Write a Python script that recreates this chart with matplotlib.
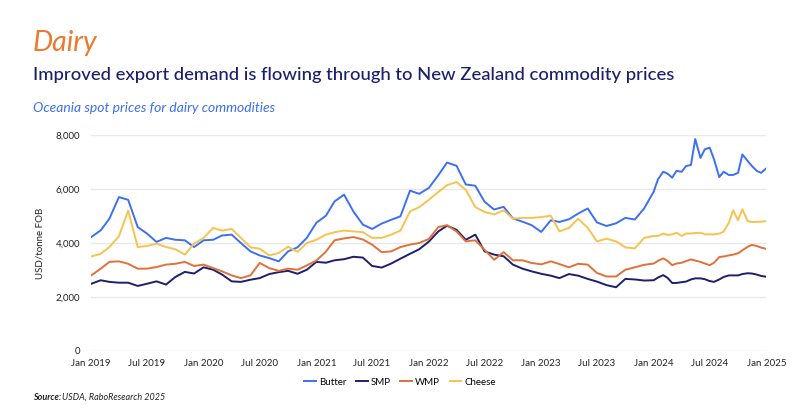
import matplotlib
matplotlib.use("Agg")
import matplotlib.pyplot as plt
import matplotlib.dates as mdates
import pandas as pd

plt.rcParams['font.family'] = ['Lato', 'DejaVu Sans']

# monthly points 2019-2023, then twice a month through 2024
dates = list(pd.date_range('2019-01-01', '2023-12-01', freq='MS')) + \
    list(pd.date_range('2024-01-01', '2025-01-01', freq='SMS'))

butter = [4220, 4470, 4900, 5700, 5600, 4590, 4350, 4040, 4190, 4120, 4100, 3850,
          4100, 4120, 4280, 4310, 4000, 3690, 3540, 3440, 3320, 3690, 3840, 4190,
          4750, 5010, 5540, 5790, 5170, 4680, 4520, 4720, 4860, 4990, 5940, 5820,
          6040, 6510, 6980, 6860, 6170, 6120, 5530, 5240, 5340, 4910, 4790, 4660,
          4410, 4840, 4780, 4880, 5090, 5280, 4760, 4630, 4730, 4930, 4870, 5280,
          5900, 6360, 6640, 6570, 6420, 6670, 6640, 6850, 6890, 7850, 7150, 7470, 7530,
          7100, 6440, 6640, 6520, 6520, 6600, 7280, 7040, 6850, 6670, 6600, 6770]

smp = [2490, 2620, 2560, 2530, 2530, 2410, 2490, 2580, 2460, 2740, 2930, 2870,
       3100, 3010, 2830, 2580, 2560, 2640, 2700, 2850, 2920, 2970, 2860, 3010,
       3300, 3270, 3360, 3400, 3490, 3460, 3150, 3090, 3240, 3420, 3600, 3770,
       4050, 4430, 4640, 4490, 4120, 4310, 3690, 3570, 3510, 3200, 3050, 2950,
       2860, 2790, 2700, 2850, 2790, 2670, 2570, 2440, 2360, 2670, 2650, 2610,
       2620, 2720, 2810, 2710, 2520, 2520, 2550, 2570, 2650, 2690, 2690, 2660, 2590,
       2560, 2650, 2740, 2800, 2800, 2800, 2850, 2880, 2870, 2830, 2780, 2750]

wmp = [2800, 3050, 3300, 3320, 3230, 3050, 3050, 3110, 3200, 3230, 3300, 3150,
       3200, 3070, 2950, 2800, 2700, 2800, 3260, 3070, 2970, 3050, 3010, 3170,
       3350, 3680, 4100, 4170, 4220, 4130, 3940, 3660, 3690, 3850, 3940, 4000,
       4150, 4590, 4660, 4430, 4060, 4100, 3750, 3380, 3660, 3360, 3360, 3260,
       3210, 3320, 3220, 3100, 3230, 3200, 2890, 2760, 2760, 3010, 3100, 3190,
       3240, 3340, 3430, 3340, 3180, 3240, 3270, 3330, 3390, 3350, 3300, 3240, 3180,
       3270, 3480, 3500, 3540, 3570, 3620, 3730, 3860, 3930, 3890, 3830, 3780]

cheese = [3500, 3600, 3850, 4250, 5200, 3850, 3890, 3975, 3850, 3770, 3570, 3975,
          4190, 4560, 4460, 4520, 4190, 3840, 3790, 3540, 3630, 3860, 3670, 4000,
          4120, 4310, 4400, 4460, 4430, 4400, 4190, 4190, 4310, 4460, 5170, 5330,
          5600, 5890, 6140, 6260, 5970, 5330, 5150, 5060, 5210, 4900, 4930, 4930,
          4960, 5010, 4430, 4560, 4900, 4560, 4060, 4160, 4060, 3840, 3800, 4190,
          4260, 4260, 4350, 4300, 4320, 4380, 4260, 4350, 4350, 4370, 4380, 4320, 4320,
          4320, 4350, 4420, 4750, 5210, 4840, 5250, 4810, 4780, 4780, 4790, 4810]

names = ['Butter', 'SMP', 'WMP', 'Cheese']
colors = ['#3D6FF2', '#1C1F6E', '#E2703A', '#F8C24E']
tick_dates = pd.date_range('2019-01-01', '2025-01-01', freq='6MS')

fig = plt.figure(figsize=(8, 4.11), dpi=100)
ax = fig.add_axes([0.114, 0.146, 0.844, 0.5255])

for name, vals, c in zip(names, [butter, smp, wmp, cheese], colors):
    ax.plot(dates, vals, color=c, lw=1.4, label=name)

ax.set_xlim(pd.Timestamp('2019-01-01'), pd.Timestamp('2025-01-01'))
ax.set_ylim(0, 8000)
ax.set_yticks([0, 2000, 4000, 6000, 8000])
ax.yaxis.set_major_formatter(matplotlib.ticker.FuncFormatter(lambda v, p: f'{int(v):,}'))
ax.set_xticks(tick_dates)
ax.xaxis.set_major_formatter(mdates.DateFormatter('%b %Y'))
ax.tick_params(axis='both', length=0, labelsize=7, colors='#222222')
ax.tick_params(axis='y', pad=8)
ax.tick_params(axis='x', pad=6)
ax.grid(axis='y', color='#e8e8e8', lw=1)
ax.set_axisbelow(True)
for s in ax.spines.values():
    s.set_visible(False)
ax.set_ylabel('USD/tonne FOB', fontsize=7, color='#222222', labelpad=8)

fig.text(0.041, 0.895, 'Dairy', fontsize=20.5, style='italic', color='#EC7A2E', va='center')
fig.text(0.041, 0.818, 'Improved export demand is flowing through to New Zealand commodity prices',
         fontsize=13.3, weight='medium', color='#1C1F6E', va='center')
fig.text(0.041, 0.738, 'Oceania spot prices for dairy commodities', fontsize=10,
         style='italic', color='#3D6FF2', va='center')
fig.text(0.041, 0.027, 'Source:', fontsize=6.5, style='italic', weight='bold', color='#222222')
fig.text(0.078, 0.027, 'USDA, RaboResearch 2025', fontsize=6.5, style='italic', color='#222222')

fig.legend(loc='center', bbox_to_anchor=(0.5, 0.07), ncol=4, frameon=False, fontsize=7,
           handlelength=1.2, handletextpad=0.3, columnspacing=1.0)

fig.savefig('out.png', dpi=100)
